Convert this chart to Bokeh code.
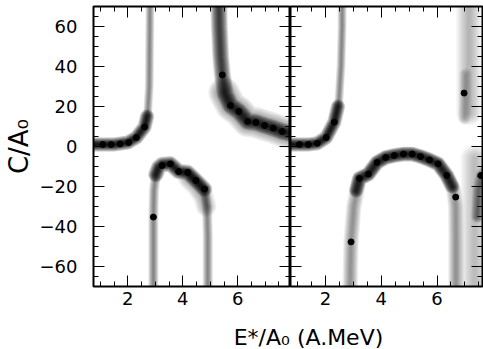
from bokeh.plotting import figure
from bokeh.layouts import column, row
from bokeh.models import LinearAxis, Label, SingleIntervalTicker, FixedTicker
from bokeh.embed import file_html
from bokeh.resources import INLINE

# ---- axis labels / ticks ----
x_label = "E*/A₀ (A.MeV)"
y_label = "C/A₀"
x_major = [2, 4, 6]
x_minor = [1.0, 1.5, 2.5, 3.0, 3.5, 4.5, 5.0, 5.5, 6.5, 7.0, 7.5]
y_major = [-60, -40, -20, 0, 20, 40, 60]
y_minor = [-65, -55, -50, -45, -35, -30, -25, -15, -10, -5,
           5, 10, 15, 25, 30, 35, 45, 50, 55, 65]
y_tick_labels = ["−60", "−40", "−20", "0", "20", "40", "60"]

# ---- left panel: fitted solutions (dots) ----
left_x = [1.09, 1.39, 1.72, 2.03, 2.31, 2.61,
          2.93, 3.25, 3.55, 3.85, 4.18, 4.48, 4.79,
          5.44, 5.74, 6.04, 6.36, 6.66, 6.98, 7.29, 7.62]
left_y = [1.0, 1.0, 1.3, 2.0, 4.5, 9.8,
          -35.3, -9.5, -8.7, -12.5, -13.0, -17.0, -21.3,
          35.8, 20.5, 17.5, 12.5, 12.0, 10.5, 9.2, 7.5]

# ---- right panel: fitted solutions (dots) ----
right_x = [1.07, 1.39, 1.71, 2.03, 2.32,
           2.92, 3.22, 3.54, 3.85, 4.16, 4.47, 4.80, 5.11, 5.41, 5.73, 6.04, 6.35, 6.67,
           6.97, 7.57]
right_y = [1.0, 1.0, 1.6, 4.5, 12.2,
           -47.7, -16.0, -13.8, -8.0, -5.5, -4.5, -3.8, -3.8, -5.0, -6.7, -8.7, -14.5, -25.3,
           26.7, -14.5]

# ---- left panel: probability bands (ridge lines) ----
la_x = [0.6, 1.5, 2.0, 2.31, 2.61, 2.72, 2.78, 2.8, 2.81]
la_y = [1.0, 1.0, 2.0, 4.5, 9.8, 16.0, 30.0, 60.0, 80.0]
la_core_x = [0.6, 1.5, 2.0, 2.31, 2.61, 2.7]
la_core_y = [1.0, 1.0, 2.0, 4.5, 9.8, 15.0]

lb_x = [2.93, 2.93, 2.95, 3.02, 3.12, 3.25, 3.55, 3.85, 4.18, 4.48, 4.79, 4.88, 4.91, 4.91]
lb_y = [-80.0, -35.3, -22.0, -14.0, -10.5, -9.0, -8.7, -12.5, -13.0, -17.0, -21.3, -30.0, -45.0, -80.0]
lb_core_x = [3.02, 3.12, 3.25, 3.55, 3.85, 4.18, 4.48, 4.79]
lb_core_y = [-14.0, -10.5, -9.0, -8.7, -12.5, -13.0, -17.0, -21.3]
lb_wide_x = [4.2, 4.5, 4.75, 4.85]
lb_wide_y = [-16.0, -20.0, -25.0, -30.0]

lc_x = [5.3, 5.33, 5.38, 5.44, 5.55, 5.74, 6.04, 6.36, 6.66, 6.98, 7.29, 7.62, 8.1]
lc_y = [80.0, 60.0, 45.0, 35.8, 26.0, 20.5, 17.5, 12.5, 12.0, 10.5, 9.2, 7.5, 6.0]
lc_wide_x = [5.5, 5.74, 6.04, 6.36, 6.66, 6.98, 7.29, 7.62, 8.1]
lc_wide_y = [27.0, 20.5, 17.5, 12.5, 12.0, 10.5, 9.2, 7.5, 6.0]

# ---- right panel: probability bands ----
ra_x = [0.6, 1.39, 1.71, 2.03, 2.32, 2.48, 2.56, 2.6, 2.6]
ra_y = [1.0, 1.0, 1.6, 4.5, 12.2, 22.0, 40.0, 60.0, 80.0]
ra_core_x = [0.6, 1.39, 1.71, 2.03, 2.32, 2.45]
ra_core_y = [1.0, 1.0, 1.6, 4.5, 12.2, 20.0]

rb_x = [2.88, 2.9, 2.92, 3.02, 3.22, 3.54, 3.85, 4.16, 4.47, 4.80, 5.11, 5.41, 5.73,
        6.04, 6.35, 6.6, 6.67, 6.68, 6.68]
rb_y = [-80.0, -60.0, -47.7, -30.0, -16.0, -13.8, -8.0, -5.5, -4.5, -3.8, -3.8, -5.0, -6.7,
        -8.7, -14.5, -22.0, -30.0, -45.0, -80.0]
rb_core_x = [3.1, 3.22, 3.54, 3.85, 4.16, 4.47, 4.80, 5.11, 5.41, 5.73, 6.04, 6.35, 6.55]
rb_core_y = [-22.0, -16.0, -13.8, -8.0, -5.5, -4.5, -3.8, -3.8, -5.0, -6.7, -8.7, -14.5, -20.0]

rc_x = [7.15, 7.15]
rc_y = [80.0, 17.0]
rc_inner_x = [7.02, 7.0, 6.98]
rc_inner_y = [36.0, 22.0, 14.0]

rd_x = [7.35, 7.35]
rd_y = [-6.0, -80.0]
rd_dark_x = [7.9, 7.6, 7.5, 7.45]
rd_dark_y = [-10.0, -14.5, -22.0, -35.0]

FONT = "DejaVu Sans"


def band(p, xs, ys, width, tone, n=10):
    """Soft ridge: stacked round-capped strokes of decreasing width."""
    a = 1.0 - (1.0 - tone) ** (1.0 / n)
    for k in range(n):
        w = width * (1.3 - 1.1 * k / (n - 1))
        p.line(xs, ys, line_width=w, line_color="black", line_alpha=a,
               line_cap="round", line_join="round")


def tick_only_axis(p, side, major, minor):
    """Inward ticks without labels: long marks for majors, short for minors."""
    for positions, length in ((major, 11), (minor, 5)):
        ax = LinearAxis(ticker=FixedTicker(ticks=[], minor_ticks=positions))
        ax.axis_line_color = None
        ax.major_tick_in = 0
        ax.major_tick_out = 0
        ax.minor_tick_in = length
        ax.minor_tick_out = 0
        ax.minor_tick_line_color = "black"
        ax.major_label_standoff = 0
        ax.axis_label_standoff = 0
        p.add_layout(ax, side)


def labelled_axis(p, side, interval):
    ax = LinearAxis(ticker=SingleIntervalTicker(interval=interval, num_minor_ticks=4))
    ax.axis_line_color = None
    ax.major_tick_in = 11
    ax.major_tick_out = 0
    ax.minor_tick_in = 5
    ax.minor_tick_out = 0
    ax.major_tick_line_color = "black"
    ax.minor_tick_line_color = "black"
    ax.major_label_text_font = FONT
    ax.major_label_text_color = "black"
    ax.major_label_text_font_size = "18px"
    p.add_layout(ax, side)
    return ax


def panel(width, x_end, border_left, border_right, show_y):
    p = figure(width=width, height=314, x_range=(0.75, x_end), y_range=(-70, 70),
               output_backend="svg", toolbar_location=None,
               min_border_left=border_left, min_border_right=border_right,
               min_border_top=6, min_border_bottom=28,
               x_axis_location=None, y_axis_location=None)
    p.grid.visible = False
    p.background_fill_color = "white"
    p.border_fill_color = "white"
    p.outline_line_color = "black"
    p.outline_line_width = 2

    bx = labelled_axis(p, "below", 2)
    bx.major_label_standoff = 5
    tick_only_axis(p, "above", x_major, x_minor)
    tick_only_axis(p, "right", y_major, y_minor)
    if show_y:
        yl = labelled_axis(p, "left", 20)
        yl.major_label_standoff = 16
        yl.major_label_overrides = dict(zip(y_major, y_tick_labels))
        yl.axis_label = y_label
        yl.axis_label_text_font = FONT
        yl.axis_label_text_font_size = "26px"
        yl.axis_label_text_font_style = "normal"
        yl.axis_label_text_color = "black"
        yl.axis_label_standoff = 3
    else:
        tick_only_axis(p, "left", y_major, y_minor)
    return p


p1 = panel(290, 7.92, 90, 0, True)
band(p1, la_x, la_y, 7, 0.45)
band(p1, la_core_x, la_core_y, 11, 0.8)
band(p1, lb_x, lb_y, 8, 0.45)
band(p1, lb_core_x, lb_core_y, 12, 0.8)
band(p1, lb_wide_x, lb_wide_y, 16, 0.35)
band(p1, lc_x, lc_y, 13, 0.75)
band(p1, lc_wide_x, lc_wide_y, 24, 0.5)
p1.scatter(left_x, left_y, size=6, color="black")

p2 = panel(193, 7.63, 0, 1, False)
band(p2, ra_x, ra_y, 7, 0.45)
band(p2, ra_core_x, ra_core_y, 11, 0.8)
band(p2, rb_x, rb_y, 12, 0.4)
band(p2, rb_core_x, rb_core_y, 11, 0.8)
band(p2, rc_x, rc_y, 20, 0.28)
band(p2, rc_inner_x, rc_inner_y, 10, 0.25)
band(p2, rd_x, rd_y, 22, 0.25)
band(p2, rd_dark_x, rd_dark_y, 10, 0.5)
p2.scatter(right_x, right_y, size=6, color="black")

# shared x-axis title under both panels
p3 = figure(width=483, height=35, x_range=(0, 483), y_range=(0, 35),
            output_backend="svg", toolbar_location=None,
            min_border_left=0, min_border_right=0, min_border_top=0, min_border_bottom=0,
            x_axis_location=None, y_axis_location=None)
p3.grid.visible = False
p3.outline_line_color = None
p3.add_layout(Label(x=308, y=12.5, text=x_label, text_align="center",
                    text_baseline="middle", text_font=FONT, text_font_size="22px",
                    text_color="black"))

layout = column(row(p1, p2), p3)
open("out.html", "w").write(file_html(layout, INLINE))
